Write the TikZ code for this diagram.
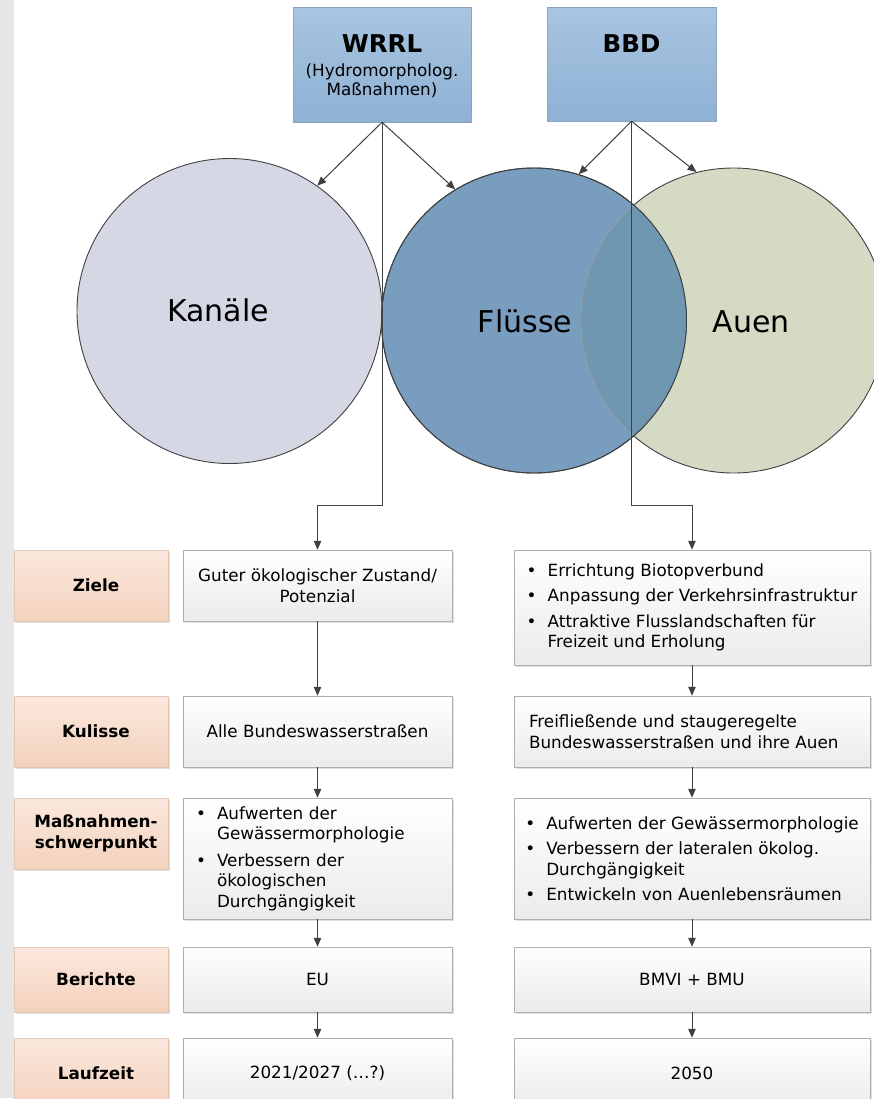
\documentclass[tikz,border=0pt]{standalone}
\usepackage{fontspec}
\setmainfont{DejaVu Sans}
\usepackage{tikz}
\usetikzlibrary{arrows.meta,shadows}
\newcommand{\dm}{305}
\newcommand{\fs}{\fontsize{16.8}{20.5}\selectfont}
\newcommand{\pkt}{\makebox[21pt][l]{\textbullet}}
\newcommand{\ein}{\hspace*{21pt}}

\definecolor{linie}{RGB}{64,64,64}
\definecolor{streifen}{RGB}{230,230,230}
\definecolor{kopfoben}{RGB}{168,197,225}
\definecolor{kopfunten}{RGB}{143,177,212}
\definecolor{kopfrand}{RGB}{140,163,192}
\definecolor{kanal}{RGB}{213,216,228}
\definecolor{fluss}{RGB}{120,157,190}
\definecolor{aue}{RGB}{213,218,197}
\definecolor{schnitt}{RGB}{111,151,177}
\definecolor{pfirsichoben}{RGB}{251,232,221}
\definecolor{pfirsichunten}{RGB}{243,210,189}
\definecolor{pfirsichrand}{RGB}{226,200,184}
\definecolor{boxunten}{RGB}{235,235,235}
\definecolor{boxrand}{RGB}{175,175,175}

\tikzset{
    kopf/.style={draw=kopfrand, line width=0.5pt, top color=kopfoben, bottom color=kopfunten, inner sep=0pt,
        drop shadow={shadow xshift=1pt, shadow yshift=-1pt, opacity=0.2}},
    kopftitel/.style={font=\bfseries\fontsize{24.5}{28}\selectfont, inner sep=0pt},
    kopftext/.style={font=\fontsize{16.8}{19}\selectfont, align=center, inner sep=0pt},
    kreis/.style={circle, draw=linie, line width=0.9pt, minimum size=\dm, inner sep=0pt},
    kreistext/.style={font=\fontsize{30}{36}\selectfont, inner sep=0pt},
    zeile/.style={draw=pfirsichrand, line width=0.5pt, top color=pfirsichoben, bottom color=pfirsichunten,
        minimum width=154, inner sep=0pt, drop shadow={shadow xshift=1.5pt, shadow yshift=-1.5pt, opacity=0.25}},
    zeiltext/.style={font=\bfseries\fs, align=center, inner sep=0pt},
    fach/.style={draw=boxrand, line width=0.5pt, top color=white, bottom color=boxunten, inner sep=0pt, font=\fs,
        drop shadow={shadow xshift=1.5pt, shadow yshift=-1.5pt, opacity=0.25}},
    pfeil/.style={draw=linie, line width=1pt, -{Triangle[length=9pt,width=7.5pt]}}
}

\begin{document}
\begin{tikzpicture}[x=1pt,y=-1pt]
                    \useasboundingbox (0,0) rectangle (874,1104);
                    \clip (0,0) rectangle (874,1098);
                    \fill[streifen] (0,0) rectangle (14,1098);
                    \node[kopf, minimum width=178, minimum height=115] (wrrl) at (382,64.5) {};
                    \node[kopf, minimum width=169, minimum height=114] (bbd) at (631.5,64) {};
                    \node[kopftitel, anchor=base] (wrrlt) at (382,52) {WRRL};
                    \node[kopftext, anchor=north] (wrrls) at (382,63.5) {(Hydromorpholog.\\Maßnahmen)};
                    \node[kopftitel, anchor=base] (bbdt) at (631.5,52) {BBD};
                    \node[kreis, fill=kanal] (kanaele) at (229.5,311) {};
                    \node[kreis, fill=aue] (auen) at (733.5,320.5) {};
                    \node[kreis, fill=fluss] (fluesse) at (534,320.5) {};
                    \begin{scope}
                    \clip (fluesse.center) circle (152.5pt);
                    \fill[schnitt] (auen.center) circle (152.5pt);
                    \draw[linie!50, line width=0.6pt] (auen.center) circle (152.5pt);
                    \end{scope}
                    \draw[linie, line width=0.9pt] (fluesse.center) circle (152.5pt);
                    \node[kreistext, anchor=base] (kanaelet) at (218,321) {Kanäle};
                    \node[kreistext, anchor=base] (fluesset) at (525,332) {Flüsse};
                    \node[kreistext, anchor=base] (auent) at (751,332) {Auen};
                    \foreach \n/\y/\h/\t in {1/585.5/71/Ziele,2/731.5/71/Kulisse,3/833.5/71/{Maßnahmen-\\schwerpunkt},4/979.5/65/Berichte,5/1073/70/Laufzeit}{
                    \node[zeile, minimum height=\h] (l\n) at (91,\y) {};
                    \node[zeiltext] (t\n) at ([xshift=5]l\n.center) {\t};
                    }
                    \node[fach, minimum width=269, minimum height=71, align=center] (a1) at (317.5,585.5) {Guter ökologischer Zustand/\\Potenzial};
                    \node[fach, minimum width=269, minimum height=71] (a2) at (317.5,731.5) {Alle Bundeswasserstraßen};
                    \node[fach, minimum width=269, minimum height=121, text width=243, align=left] (a3) at (317.5,858.5) {\pkt Aufwerten der\\\ein Gewässermorphologie\\[6pt]\pkt Verbessern der\\\ein ökologischen\\\ein Durchgängigkeit};
                    \node[fach, minimum width=269, minimum height=65] (a4) at (317.5,979.5) {EU};
                    \node[fach, minimum width=269, minimum height=70] (a5) at (317.5,1073) {2021/2027 (…?)};
                    \node[fach, minimum width=356, minimum height=115, align=left] (b1) at (692,607.5) {\pkt Errichtung Biotopverbund\\[5pt]\pkt Anpassung der Verkehrsinfrastruktur\\[5pt]\pkt Attraktive Flusslandschaften für\\\ein Freizeit und Erholung};
                    \node[fach, minimum width=356, minimum height=71, text width=326, align=left] (b2) at (692,731.5) {Freifließende und staugeregelte\\Bundeswasserstraßen und ihre Auen};
                    \node[fach, minimum width=356, minimum height=121, align=left] (b3) at (692,858.5) {\pkt Aufwerten der Gewässermorphologie\\[5pt]\pkt Verbessern der lateralen ökolog.\\\ein Durchgängigkeit\\[5pt]\pkt Entwickeln von Auenlebensräumen};
                    \node[fach, minimum width=356, minimum height=65] (b4) at (692,979.5) {BMVI + BMU};
                    \node[fach, minimum width=356, minimum height=70] (b5) at (692,1073) {2050};
                    \coordinate (wk) at (382,505);
                    \coordinate (bk) at (631.5,505);
                    \draw[pfeil] (wrrl.south) -- (wk) -| (a1.north);
                    \draw[pfeil] (bbd.south) -- (bk) -| (b1.north);
                    \draw[pfeil] (wrrl.south) -- (kanaele.55);
                    \draw[pfeil] (wrrl.south) -- (fluesse.121);
                    \draw[pfeil] (bbd.south) -- (fluesse.73);
                    \draw[pfeil] (bbd.south) -- (auen.104);
                    \foreach \u/\v in {a1/a2,a2/a3,a3/a4,a4/a5,b1/b2,b2/b3,b3/b4,b4/b5}{
                    \draw[pfeil] (\u.south) -- (\v.north);
                    }
\end{tikzpicture}
\end{document}
